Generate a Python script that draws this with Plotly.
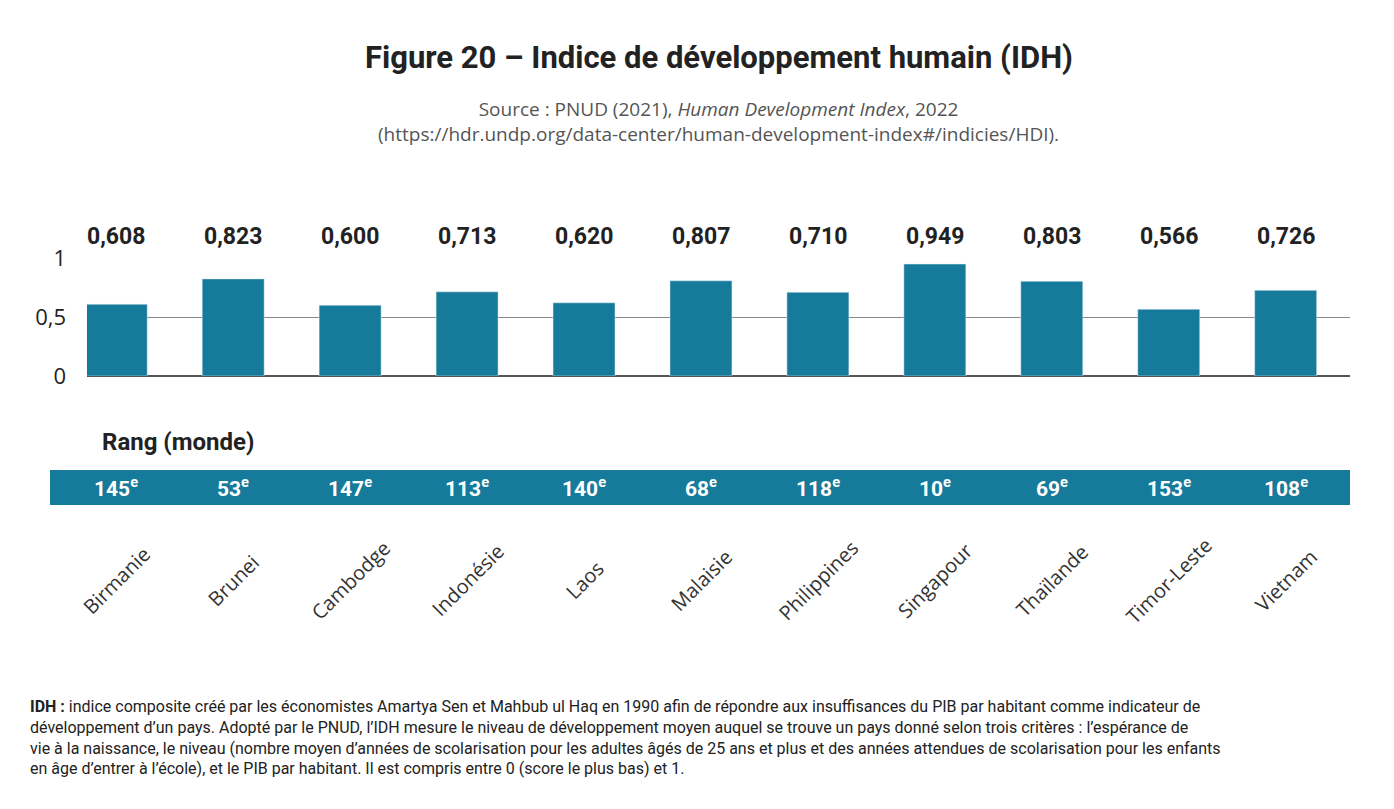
import plotly.graph_objects as go

pays = ["Birmanie", "Brunei", "Cambodge", "Indonésie", "Laos", "Malaisie",
        "Philippines", "Singapour", "Thaïlande", "Timor-Leste", "Vietnam"]
idh = [0.608, 0.823, 0.600, 0.713, 0.620, 0.807, 0.710, 0.949, 0.803, 0.566, 0.726]
rang = [145, 53, 147, 113, 140, 68, 118, 10, 69, 153, 108]

BLEU = "#167a9b"
COND = "Roboto, sans-serif"
W, H = 1394, 809
OFF = 8  # page margin around the figure
L, R, T, B = 79, 52, 250, 441
ph = H - T - B
pw = W - L - R

def py(px):
    return (H - B - (px - OFF)) / ph

def pxx(px):
    return (px - OFF - L) / pw

fig = go.Figure(go.Bar(x=list(range(len(pays))), y=idh, marker_color=BLEU, width=0.53))

ann = []
for i, (v, r, p) in enumerate(zip(idh, rang, pays)):
    ann.append(dict(x=i, y=1, yshift=22, text=f"<b>{v:.3f}".replace(".", ",") + "</b>",
                    showarrow=False, font=dict(size=23, family=COND, color="#222")))
    ann.append(dict(x=i, y=py(487), yref="paper", yanchor="middle", text=f"<b>{r}<sup>e</sup></b>",
                    showarrow=False, font=dict(size=21, family=COND, color="white")))
    ann.append(dict(x=i, y=py(580), yref="paper", yanchor="middle", text=p, textangle=-45,
                    showarrow=False, font=dict(size=20, family="Open Sans", color="#333")))

ann += [
    dict(x=0.5, y=py(57), xref="paper", yref="paper", yanchor="middle", xanchor="center",
         text="<b>Figure 20 – Indice de développement humain (IDH)</b>", showarrow=False,
         font=dict(size=31, family=COND, color="#222")),
    dict(x=0.5, y=py(121), xref="paper", yref="paper", yanchor="middle", xanchor="center",
         text="Source : PNUD (2021), <i>Human Development Index</i>, 2022<br>"
              "(https://hdr.undp.org/data-center/human-development-index#/indicies/HDI).",
         showarrow=False, font=dict(size=19, family="Open Sans", color="#555")),
    dict(x=pxx(100), y=py(442), xref="paper", yref="paper", yanchor="middle",
         xanchor="left", text="<b>Rang (monde)</b>", showarrow=False,
         font=dict(size=24, family=COND, color="#222")),
    dict(x=pxx(28), y=py(737), xref="paper", yref="paper",
         xanchor="left", align="left", yanchor="middle",
         text="<b>IDH :</b> indice composite créé par les économistes Amartya Sen et Mahbub ul Haq en 1990 afin de répondre aux insuffisances du PIB par habitant comme indicateur de<br>"
              "développement d’un pays. Adopté par le PNUD, l’IDH mesure le niveau de développement moyen auquel se trouve un pays donné selon trois critères : l’espérance de<br>"
              "vie à la naissance, le niveau (nombre moyen d’années de scolarisation pour les adultes âgés de 25 ans et plus et des années attendues de scolarisation pour les enfants<br>"
              "en âge d’entrer à l’école), et le PIB par habitant. Il est compris entre 0 (score le plus bas) et 1.",
         showarrow=False, font=dict(size=16, family=COND, color="#222")),
]

fig.update_layout(
    width=W, height=H, margin=dict(l=L, r=R, t=T, b=B),
    plot_bgcolor="white", paper_bgcolor="white", separators=", ",
    showlegend=False, annotations=ann,
    shapes=[dict(type="rect", xref="paper", yref="paper",
                 x0=pxx(50), x1=pxx(1350), y0=py(505), y1=py(470),
                 fillcolor=BLEU, line_width=0, layer="below")],
    xaxis=dict(range=[-0.25, 10.55], showticklabels=False, showgrid=False, zeroline=False),
    yaxis=dict(range=[0, 1], tickvals=[0, 0.5, 1], ticktext=["0", "0,5", "1"],
               gridcolor="#888", gridwidth=1, zeroline=True, zerolinecolor="#555",
               ticklabelstandoff=20, tickfont=dict(size=22, family="Open Sans", color="#222")),
)

fig.write_html("out.html")
